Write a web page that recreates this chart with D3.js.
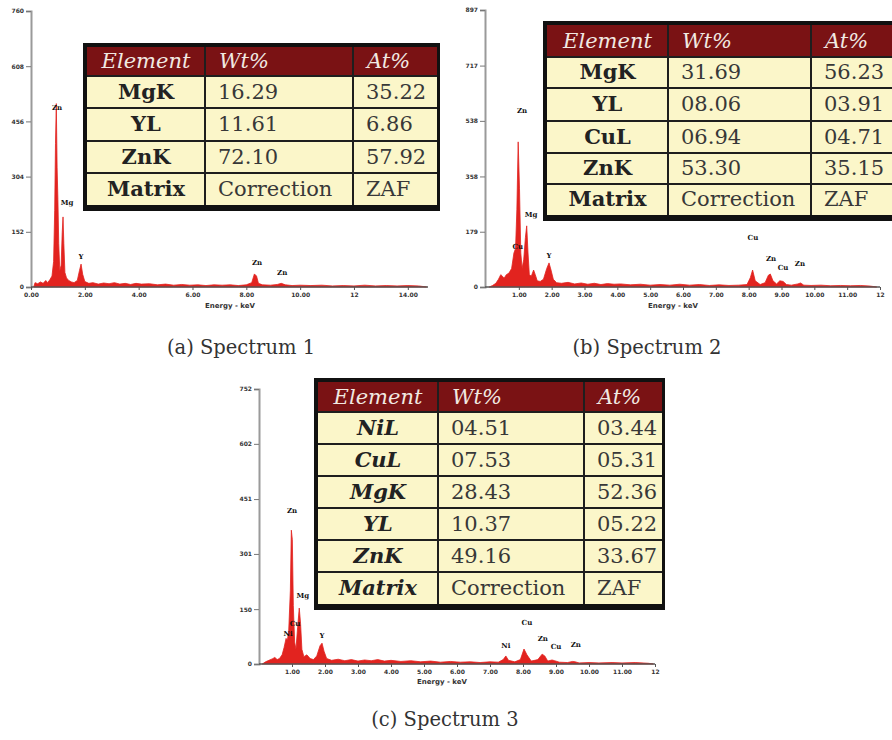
<!DOCTYPE html>
<html>
<head>
<meta charset="utf-8">
<script src="https://cdn.jsdelivr.net/npm/d3@7"></script>
<style>
  body { margin: 0; background: #fff; }
  svg { display: block; }
</style>
</head>
<body>
<div id="chart"></div>
<script>
// ---- data ----
// spectrum 1
const spec1Energy = [0.10,0.15,0.25,0.35,0.45,0.55,0.62,0.70,0.78,0.84,0.88,0.91,0.94,0.97,1.00,1.03,1.07,1.12,1.16,1.19,1.22,1.26,1.32,1.40,1.50,1.60,1.72,1.80,1.86,1.92,2.00,2.15,2.30,2.50,2.70,2.90,3.10,3.30,3.50,3.70,3.90,4.10,4.40,4.70,5.00,5.30,5.60,5.90,6.20,6.50,6.80,7.10,7.40,7.70,8.00,8.20,8.30,8.38,8.45,8.60,8.90,9.15,9.30,9.45,9.70,10.0,10.4,10.8,11.2,11.6,12.0,12.4,12.8,13.2,13.6,14.0,14.4,14.7]
const spec1Counts = [0,12,9,14,10,18,12,20,30,70,210,395,505,330,240,120,45,60,150,193,120,40,25,18,14,12,18,45,63,35,15,10,12,8,11,9,12,8,10,7,10,8,9,6,8,5,7,5,6,4,6,5,6,4,6,12,36,30,10,6,5,7,10,6,4,5,4,5,3,4,3,5,3,4,3,4,3,0]
const spec1Ticks = [0,152,304,456,608,760]
const spec1Peaks = ['Zn','Mg','Y','Zn','Zn']
const spec1PeakE = [0.97,1.34,1.86,8.40,9.33]
const spec1PeakC = [493,231,83,66,39]

// spectrum 2
const spec2Energy = [0.10,0.20,0.30,0.38,0.45,0.50,0.55,0.62,0.70,0.78,0.85,0.90,0.94,0.98,1.02,1.06,1.10,1.15,1.20,1.24,1.28,1.32,1.38,1.45,1.50,1.56,1.65,1.75,1.85,1.92,1.98,2.05,2.15,2.30,2.50,2.70,2.90,3.10,3.30,3.50,3.70,3.90,4.10,4.40,4.70,5.00,5.30,5.60,5.90,6.20,6.50,6.80,7.10,7.40,7.70,7.95,8.05,8.12,8.20,8.35,8.50,8.60,8.66,8.74,8.85,8.95,9.05,9.15,9.30,9.50,9.58,9.68,9.90,10.2,10.5,10.8,11.1,11.4,11.7,11.9]
const spec2Counts = [0,5,12,25,40,35,28,40,45,60,110,125,250,470,320,110,60,90,160,198,110,40,35,55,40,20,18,25,60,78,55,25,14,12,15,10,13,9,12,8,11,9,10,7,9,6,8,6,9,6,8,5,7,5,6,8,30,55,20,8,14,38,42,20,10,20,18,8,6,10,13,6,5,6,4,5,4,5,3,0]
const spec2Ticks = [0,179,358,538,717,897]
const spec2Peaks = ['Zn','Cu','Mg','Y','Cu','Zn','Cu','Zn']
const spec2PeakE = [1.10,0.97,1.37,1.92,8.13,8.68,9.05,9.56]
const spec2PeakC = [570,130,233,100,159,91,62,74]

// spectrum 3
const spec3Energy = [0.10,0.20,0.30,0.40,0.48,0.55,0.62,0.70,0.76,0.82,0.86,0.90,0.95,0.98,1.01,1.04,1.08,1.12,1.17,1.22,1.26,1.30,1.36,1.45,1.55,1.65,1.75,1.85,1.91,1.97,2.05,2.20,2.40,2.60,2.80,3.00,3.20,3.40,3.60,3.80,4.00,4.30,4.60,4.90,5.20,5.50,5.80,6.10,6.40,6.70,7.00,7.25,7.40,7.48,7.56,7.75,7.92,8.03,8.12,8.25,8.45,8.58,8.66,8.75,8.88,8.96,9.10,9.35,9.50,9.58,9.70,10.0,10.3,10.7,11.0,11.4,11.8,11.95]
const spec3Counts = [0,6,10,14,18,12,15,25,45,70,65,90,200,366,340,160,60,40,100,153,110,40,20,25,15,12,22,50,57,35,15,10,13,9,12,8,11,9,12,8,10,7,9,6,8,5,7,5,6,4,6,5,12,22,10,6,12,41,25,8,12,27,22,8,11,9,5,4,7,6,3,4,3,4,3,4,2,0]
const spec3Ticks = [0,150,301,451,602,752]
const spec3Peaks = ['Zn','Cu','Ni','Mg','Y','Ni','Cu','Zn','Cu','Zn']
const spec3PeakE = [1.00,1.09,0.88,1.33,1.91,7.48,8.12,8.60,9.00,9.60]
const spec3PeakC = [418,109,82,186,77,49,112,68,46,52]

// tables
const tableHeader = ['Element','Wt%','At%']
const table1Element = ['MgK','YL','ZnK','Matrix']
const table1Wt = ['16.29','11.61','72.10','Correction']
const table1At = ['35.22','6.86','57.92','ZAF']
const table2Element = ['MgK','YL','CuL','ZnK','Matrix']
const table2Wt = ['31.69','08.06','06.94','53.30','Correction']
const table2At = ['56.23','03.91','04.71','35.15','ZAF']
const table3Element = ['NiL','CuL','MgK','YL','ZnK','Matrix']
const table3Wt = ['04.51','07.53','28.43','10.37','49.16','Correction']
const table3At = ['03.44','05.31','52.36','05.22','33.67','ZAF']

const captions = ['(a) Spectrum 1','(b) Spectrum 2','(c) Spectrum 3']

// ---- layout ----
const W = 892, H = 740
const red = '#e2231f'

const svg = d3.select('#chart').append('svg')
  .attr('width', W).attr('height', H)

svg.append('rect').attr('width', W).attr('height', H).attr('fill', '#fff')

function drawSpectrum(p){
  const x = d3.scaleLinear().domain(p.xDomain).range(p.xRange)
  const y = d3.scaleLinear().domain([0, p.yTicks[p.yTicks.length-1]]).range(p.yRange)
  const g = svg.append('g')

  const pts = p.energy.map((e,i) => [e, p.counts[i]])
  const area = d3.area()
    .x(d => x(d[0]))
    .y0(y(0))
    .y1(d => y(d[1]))
  g.append('path')
    .attr('d', area(pts))
    .attr('fill', red)
    .attr('stroke', red)
    .attr('stroke-width', 0.8)

  // y axis
  const yAxis = d3.axisLeft(y).tickValues(p.yTicks).tickSize(5).tickPadding(2)
  const ya = g.append('g')
    .attr('transform', `translate(${p.xRange[0] - p.yAxisGap},0)`)
    .call(yAxis)
  ya.select('.domain').attr('stroke', '#9a9a9a').attr('stroke-width', 2)
  ya.selectAll('.tick line').attr('stroke', '#777')
  ya.selectAll('text').attr('font-size', 6).attr('font-weight', 'bold')
    .attr('font-family', 'DejaVu Sans').attr('fill', '#333')

  // x axis
  const xAxis = d3.axisBottom(x).tickValues(p.xTicks).tickSize(3).tickPadding(3)
    .tickFormat(d => d === 12 ? '12' : d3.format('.2f')(d))
  const xa = g.append('g')
    .attr('transform', `translate(0,${p.yRange[0]})`)
    .call(xAxis)
  xa.select('.domain').attr('stroke', '#555').attr('stroke-width', 1.5)
    .attr('d', `M${p.xRange[0] - p.yAxisGap},0H${p.xRange[1]}`)
  xa.selectAll('.tick line').attr('stroke', '#555')
  xa.selectAll('text').attr('font-size', 6).attr('font-weight', 'bold')
    .attr('font-family', 'DejaVu Sans').attr('fill', '#333')

  g.append('text')
    .attr('x', p.energyLabel[0]).attr('y', p.energyLabel[1])
    .attr('text-anchor', 'middle')
    .attr('font-size', 7).attr('font-weight', 'bold')
    .attr('font-family', 'DejaVu Sans').attr('fill', '#333')
    .text('Energy - keV')

  // peak labels
  g.selectAll('.peak')
    .data(p.peaks.map((el,i) => ({el, e: p.peakE[i], c: p.peakC[i]})))
    .join('text')
      .attr('class', 'peak')
      .attr('x', d => x(d.e))
      .attr('y', d => y(d.c))
      .attr('text-anchor', 'middle')
      .attr('dominant-baseline', 'middle')
      .attr('font-size', 7).attr('font-weight', 'bold')
      .attr('font-family', 'DejaVu Serif').attr('fill', '#111')
      .text(d => d.el)
}

function drawTable(t){
  const g = svg.append('g')
  const cols = t.cols
  const rowsY = t.rows
  const x0 = cols[0], x1 = cols[cols.length-1]
  const y0 = rowsY[0], y1 = rowsY[rowsY.length-1]
  // black frame / shadow
  g.append('rect')
    .attr('x', x0 - 4).attr('y', y0 - 4)
    .attr('width', x1 - x0 + 7).attr('height', y1 - y0 + 10)
    .attr('fill', '#111')
  // header
  g.append('rect')
    .attr('x', x0).attr('y', y0)
    .attr('width', x1 - x0).attr('height', rowsY[1] - y0)
    .attr('fill', '#7a1214')
  g.append('rect')
    .attr('x', x0).attr('y', rowsY[1])
    .attr('width', x1 - x0).attr('height', y1 - rowsY[1])
    .attr('fill', '#fbf6c9')
  // grid
  rowsY.slice(1, -1).forEach(yy => {
    g.append('line').attr('x1', x0).attr('x2', x1).attr('y1', yy).attr('y2', yy)
      .attr('stroke', '#1e1e1e').attr('stroke-width', 2)
  })
  cols.slice(1, -1).forEach(xx => {
    g.append('line').attr('x1', xx).attr('x2', xx).attr('y1', y0).attr('y2', y1)
      .attr('stroke', '#1e1e1e').attr('stroke-width', 2)
  })
  // header text
  tableHeader.forEach((h, i) => {
    g.append('text')
      .attr('x', i === 0 ? (cols[0] + cols[1]) / 2 : cols[i] + 14)
      .attr('y', (y0 + rowsY[1]) / 2 + 1)
      .attr('text-anchor', i === 0 ? 'middle' : 'start')
      .attr('dominant-baseline', 'middle')
      .attr('font-family', 'DejaVu Serif').attr('font-style', 'italic')
      .attr('font-size', 21).attr('fill', '#f1e9e2')
      .text(h)
  })
  t.element.forEach((el, r) => {
    const cy = (rowsY[r+1] + rowsY[r+2]) / 2 + 1
    g.append('text')
      .attr('x', (cols[0] + cols[1]) / 2).attr('y', cy)
      .attr('text-anchor', 'middle').attr('dominant-baseline', 'middle')
      .attr('font-family', 'DejaVu Serif').attr('font-weight', 'bold')
      .attr('font-style', t.italic ? 'italic' : 'normal')
      .attr('font-size', 21).attr('fill', '#222')
      .text(el)
    ;[t.wt[r], t.at[r]].forEach((v, j) => {
      g.append('text')
        .attr('x', cols[j+1] + 13).attr('y', cy)
        .attr('dominant-baseline', 'middle')
        .attr('font-family', 'DejaVu Serif')
        .attr('font-size', 21).attr('fill', '#383838')
        .text(v)
    })
  })
}

drawSpectrum({
  energy: spec1Energy, counts: spec1Counts, yTicks: spec1Ticks,
  peaks: spec1Peaks, peakE: spec1PeakE, peakC: spec1PeakC,
  xDomain: [0, 14.75], xRange: [31, 428], yRange: [287, 11], yAxisGap: 0,
  xTicks: [0,2,4,6,8,10,12,14], energyLabel: [230, 308]
})
drawSpectrum({
  energy: spec2Energy, counts: spec2Counts, yTicks: spec2Ticks,
  peaks: spec2Peaks, peakE: spec2PeakE, peakC: spec2PeakC,
  xDomain: [0, 12], xRange: [486, 880], yRange: [287, 10], yAxisGap: 1,
  xTicks: [1,2,3,4,5,6,7,8,9,10,11,12], energyLabel: [673, 308]
})
drawSpectrum({
  energy: spec3Energy, counts: spec3Counts, yTicks: spec3Ticks,
  peaks: spec3Peaks, peakE: spec3PeakE, peakC: spec3PeakC,
  xDomain: [0, 12], xRange: [259, 655], yRange: [664, 389], yAxisGap: 0,
  xTicks: [1,2,3,4,5,6,7,8,9,10,11,12], energyLabel: [442, 684]
})

drawTable({ cols: [87, 205, 353, 437], rows: [47, 76, 108, 141, 173, 205],
  element: table1Element, wt: table1Wt, at: table1At, italic: false })
drawTable({ cols: [547, 668, 811, 892], rows: [25, 57, 88, 121, 153, 184, 215],
  element: table2Element, wt: table2Wt, at: table2At, italic: false })
drawTable({ cols: [318, 438, 584, 662], rows: [382, 412, 444, 476, 508, 540, 572, 604],
  element: table3Element, wt: table3Wt, at: table3At, italic: true })

// captions
const capPos = [[241, 348], [647, 348], [445, 720]]
captions.forEach((c, i) => {
  svg.append('text')
    .attr('x', capPos[i][0]).attr('y', capPos[i][1])
    .attr('text-anchor', 'middle').attr('dominant-baseline', 'middle')
    .attr('font-family', 'DejaVu Serif').attr('font-size', 19.5)
    .attr('fill', '#333')
    .text(c)
})
</script>
</body>
</html>
